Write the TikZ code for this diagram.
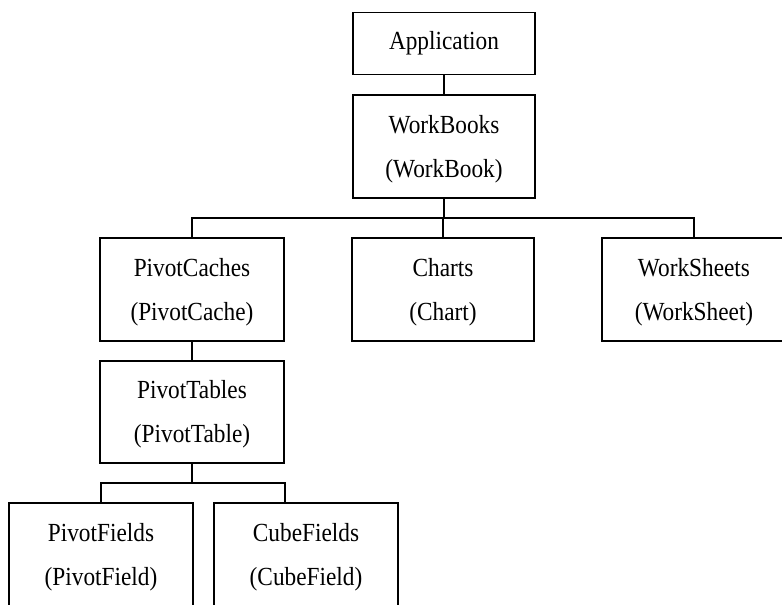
\documentclass[tikz,border=0pt]{standalone}
\usepackage{fontspec}
\setmainfont{Liberation Serif}
\usepackage{graphicx}
\newcommand{\twolines}[2]{\scalebox{1}[1.12]{\begin{tabular}{@{}c@{}}#1\\#2\end{tabular}}}
\newcommand{\oneline}[1]{\scalebox{1}[1.12]{#1}}
\begin{document}
\begin{tikzpicture}[x=1pt,y=-1pt,
  box/.style={draw, line width=1.7pt, minimum width=184pt, minimum height=103pt,
              inner sep=0pt, font=\fontsize{23.3}{39}\selectfont},
  conn/.style={line width=1.7pt}]
\useasboundingbox (0,0) rectangle (782,605);
\clip (0,0) rectangle (782,605);
\node[box, minimum width=182pt, minimum height=62pt] (app) at (444,43.5) {\oneline{Application}};
\node[box, minimum width=182pt] (wb) at (444,146.5) {\twolines{WorkBooks}{(WorkBook)}};
\node[box] (pc) at (192,289.5) {\twolines{PivotCaches}{(PivotCache)}};
\node[box, minimum width=182pt] (ch) at (443,289.5) {\twolines{Charts}{(Chart)}};
\node[box] (ws) at (694,289.5) {\twolines{WorkSheets}{(WorkSheet)}};
\node[box, minimum height=102pt] (pt) at (192,412) {\twolines{PivotTables}{(PivotTable)}};
\node[box] (pf) at (101,554.5) {\twolines{PivotFields}{(PivotField)}};
\node[box] (cf) at (306,554.5) {\twolines{CubeFields}{(CubeField)}};
% connectors
\draw[conn] (app.south) -- (wb.north);
\coordinate (bus1) at (444,218);
\draw[conn] (wb.south) -- (bus1);
\draw[conn] (pc.north) |- (ws.north |- bus1) -- (ws.north);
\draw[conn] (ch.north |- bus1) -- (ch.north);
\draw[conn] (pc.south) -- (pt.north);
\coordinate (bus2) at (192,483);
\draw[conn] (pt.south) -- (bus2);
\draw[conn] (pf.north) |- (pt.south east |- bus2) -- (pt.south east |- cf.north);
\end{tikzpicture}
\end{document}
